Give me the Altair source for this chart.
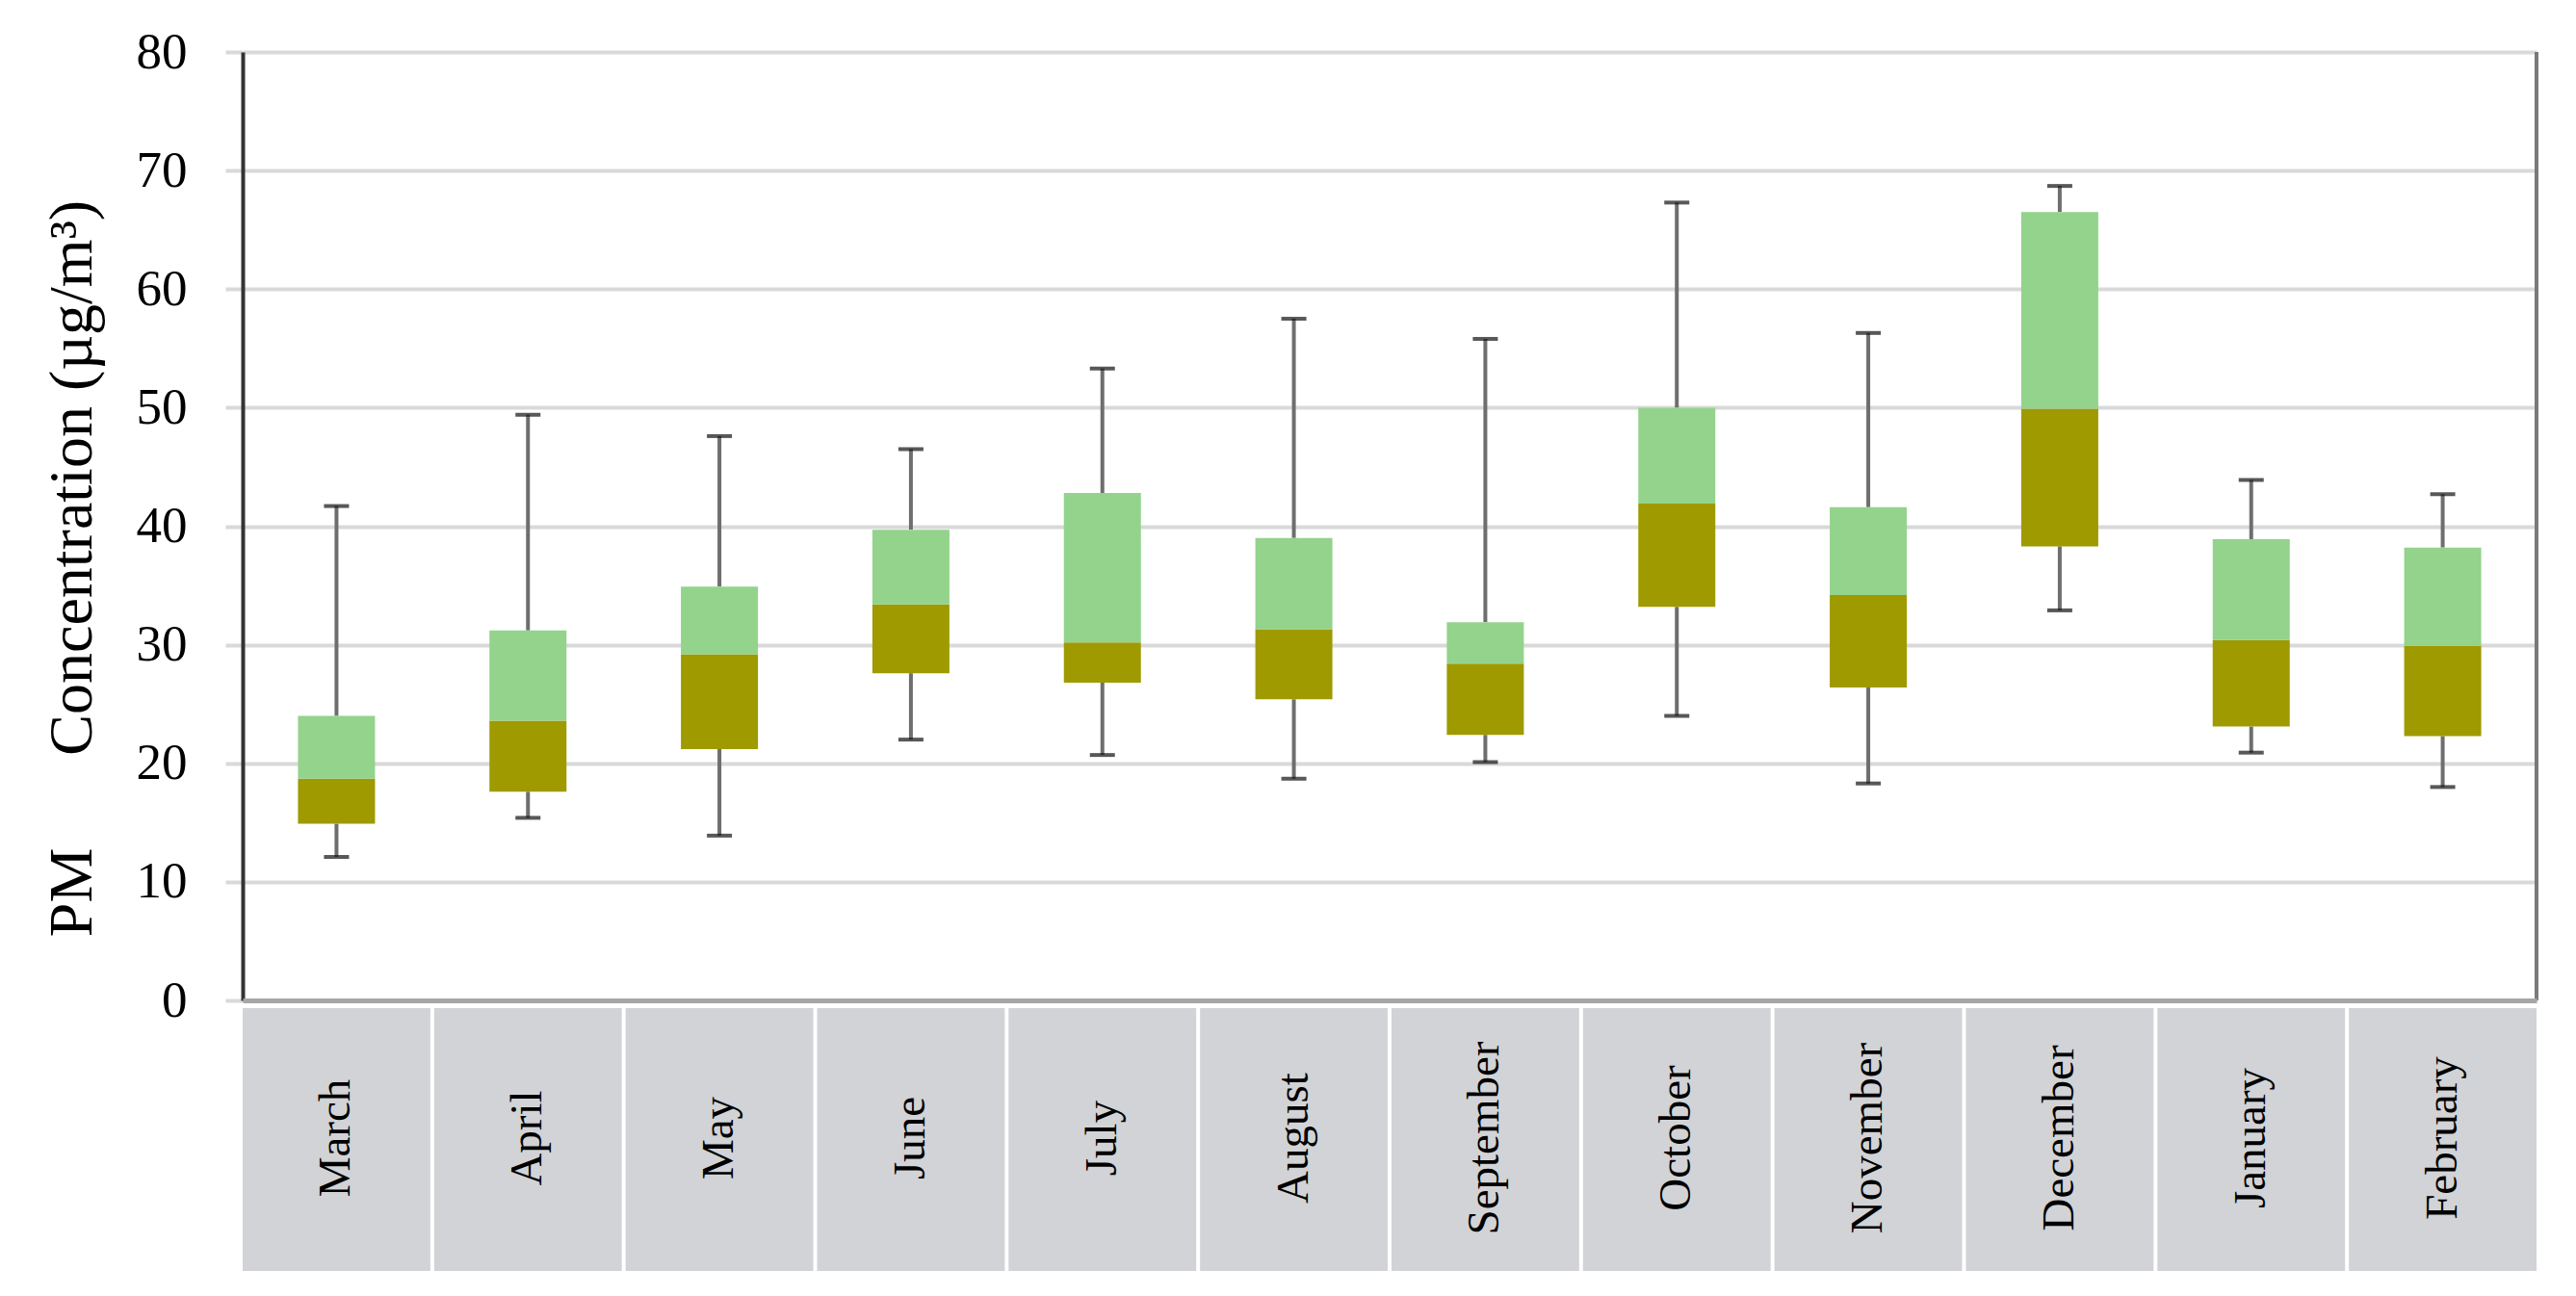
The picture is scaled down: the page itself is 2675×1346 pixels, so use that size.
import altair as alt
import pandas as pd

months = ["March", "April", "May", "June", "July", "August", "September",
          "October", "November", "December", "January", "February"]
whisker_low = [12.1, 15.4, 13.9, 22.0, 20.7, 18.7, 20.1, 24.0, 18.3, 32.9, 20.9, 18.0]
q1 = [14.9, 17.6, 21.2, 27.6, 26.8, 25.4, 22.4, 33.2, 26.4, 38.3, 23.1, 22.3]
median = [18.7, 23.6, 29.2, 33.4, 30.2, 31.3, 28.4, 41.9, 34.2, 49.9, 30.4, 29.9]
q3 = [24.0, 31.2, 34.9, 39.7, 42.8, 39.0, 31.9, 50.0, 41.6, 66.5, 38.9, 38.2]
whisker_high = [41.7, 49.4, 47.6, 46.5, 53.3, 57.5, 55.8, 67.3, 56.3, 68.7, 43.9, 42.7]
y_ticks = [0, 10, 20, 30, 40, 50, 60, 70, 80]

df = pd.DataFrame({
    "month": months,
    "low": whisker_low,
    "q1": q1,
    "median": median,
    "q3": q3,
    "high": whisker_high,
})

W = 2382
H = 985
FONT = "Liberation Serif"

xscale = alt.Scale(domain=months, paddingInner=0.02, paddingOuter=0.0)
x_enc = alt.X("month:N", sort=months, scale=xscale,
              axis=alt.Axis(labels=False, ticks=False, title=None,
                            domainColor="#a6a6a6", domainWidth=5))
yscale = alt.Scale(domain=[0, 80], nice=False, zero=True)
y_axis = alt.Axis(
    values=y_ticks, grid=True, gridColor="#d9d9d9", gridWidth=4,
    tickColor="#d9d9d9", tickWidth=4, tickSize=18,
    domainColor="#333333", domainWidth=4,
    labelFont=FONT, labelFontSize=53, labelPadding=40, labelColor="#000000",
    title="PM\u2002\u2002\u2002Concentration (µg/m³)",
    titleFont=FONT, titleFontSize=64, titleFontWeight="normal", titleColor="#000000",
    titleX=-177, titleY=536, titleAngle=270, titleAlign="center", titleBaseline="middle",
)

base = alt.Chart(df)

whisk_low = base.mark_rule(color="#6e6e6e", strokeWidth=4).encode(
    x=x_enc,
    y=alt.Y("low:Q", scale=yscale, axis=y_axis),
    y2="q1:Q",
)
whisk_high = base.mark_rule(color="#6e6e6e", strokeWidth=4).encode(
    x=x_enc, y=alt.Y("q3:Q", scale=yscale), y2="high:Q",
)
cap_low = base.mark_tick(color="#111111", size=26, thickness=4).encode(
    x=x_enc, y=alt.Y("low:Q", scale=yscale),
)
cap_high = base.mark_tick(color="#111111", size=26, thickness=4).encode(
    x=x_enc, y=alt.Y("high:Q", scale=yscale),
)
box_low = base.mark_bar(size=80, color="#9e9a00").encode(
    x=x_enc, y=alt.Y("q1:Q", scale=yscale), y2="median:Q",
)
box_high = base.mark_bar(size=80, color="#93d38b").encode(
    x=x_enc, y=alt.Y("median:Q", scale=yscale), y2="q3:Q",
)

cells = base.mark_rect(color="#d1d3d6").encode(
    x=x_enc, y=alt.value(H + 8), y2=alt.value(H + 281),
)
labels = base.mark_text(angle=270, font=FONT, fontSize=47, color="#000000",
                        align="center", baseline="middle").encode(
    x=x_enc, y=alt.value(H + 143), text="month:N",
)

border = alt.Chart(pd.DataFrame({"a": [0]})).mark_rule(
    color="#7a7a7a", strokeWidth=4).encode(
    x=alt.value(W), y=alt.value(0), y2=alt.value(H),
)

chart = alt.layer(
    cells, labels, border, whisk_low, whisk_high, cap_low, cap_high, box_low, box_high
).properties(
    width=W, height=H,
    autosize=alt.AutoSizeParams(type="none"),
    padding={"left": 244, "top": 46, "right": 30, "bottom": 300},
).configure_view(stroke=None).configure(background="#ffffff")

chart.save("out.html", embed_options={"renderer": "svg", "actions": False})
